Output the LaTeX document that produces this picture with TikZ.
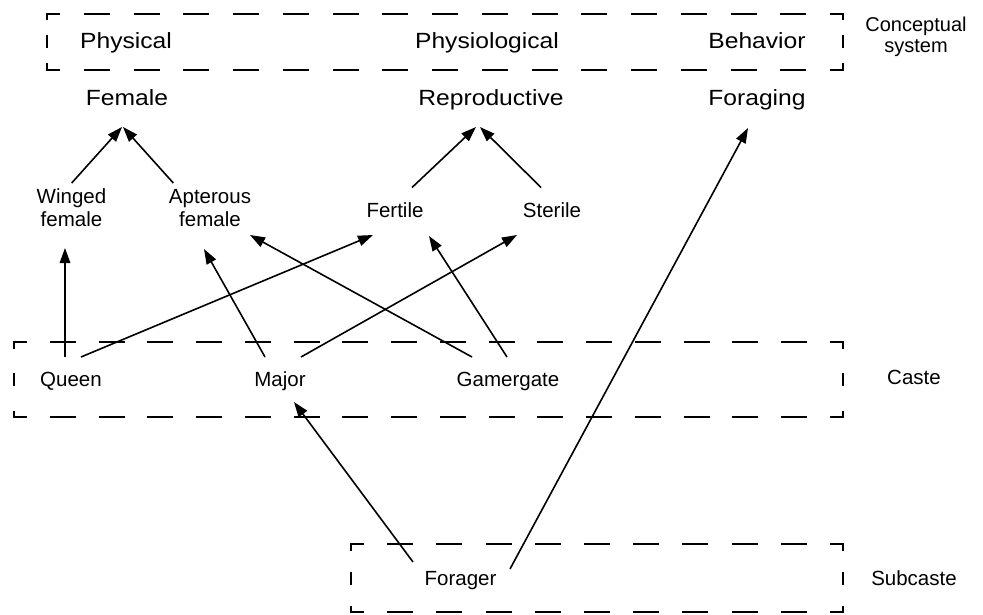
\documentclass[tikz,border=0pt]{standalone}
\usepackage{fontspec}
\setmainfont{Liberation Sans}
\newfontfamily\widesans{Liberation Sans}[FakeStretch=1.12]
\usetikzlibrary{arrows.meta}

% one dashed side: x1 y1 x2 y2, target period, dash length;
% the run starts and ends with half a dash so corners read as "L" pieces
\newcommand\dashrun[6]{%
  \pgfmathsetmacro\runlen{abs(#3-#1)+abs(#4-#2)}%
  \pgfmathsetmacro\runper{\runlen/max(1,round(\runlen/#5))}%
  \pgfmathsetmacro\runoff{\runper-#6}%
  \pgfmathsetmacro\runph{#6/2}%
  \draw[boxline, dash pattern=on #6pt off \runoff pt, dash phase=\runph pt] (#1,#2) -- (#3,#4);%
}
% dashed frame: left, top, right, bottom
\newcommand\dashframe[4]{%
  \dashrun{#1}{#2}{#3}{#2}{49}{24}%
  \dashrun{#3}{#2}{#3}{#4}{36}{11}%
  \dashrun{#3}{#4}{#1}{#4}{49}{24}%
  \dashrun{#1}{#4}{#1}{#2}{36}{11}%
}

\tikzset{
  biglabel/.style={font=\widesans\fontsize{22}{24}\selectfont, inner sep=0pt, anchor=base},
  smalllabel/.style={font=\fontsize{20.5}{23}\selectfont, inner sep=0pt, anchor=base},
  twoline/.style={font=\fontsize{20.5}{23}\selectfont, inner sep=0pt, align=center},
  sidelabel/.style={font=\fontsize{20}{20.5}\selectfont, inner sep=0pt, align=center},
  arr/.style={line width=1.6pt, -{Triangle[length=15pt,width=10.5pt]}},
  boxline/.style={line width=2pt, line cap=rect},
}

\begin{document}
\begin{tikzpicture}[x=1pt, y=-1pt]
\useasboundingbox (0,0) rectangle (983,615);

% dashed frames
\dashframe{47}{14}{843}{70}
\dashframe{14}{342}{843}{417}
\dashframe{351}{544}{843}{612}

% conceptual system row
\node[biglabel] (physical) at (126,48.5) {Physical};
\node[biglabel] (physiological) at (487,48.5) {Physiological};
\node[biglabel] (behavior) at (757,48.5) {Behavior};
\node[sidelabel] (concept) at (916,37) {Conceptual\\system};

% properties
\node[biglabel] (female) at (127,106) {Female};
\node[biglabel] (reproductive) at (491,106) {Reproductive};
\node[biglabel] (foraging) at (757,106) {Foraging};

\node[twoline] (winged) at (71.5,208) {Winged\\female};
\node[twoline] (apterous) at (210,208) {Apterous\\female};
\node[smalllabel] (fertile) at (395,217.5) {Fertile};
\node[smalllabel] (sterile) at (552,217.5) {Sterile};

% castes
\node[smalllabel] (queen) at (71,386) {Queen};
\node[smalllabel] (major) at (280,386) {Major};
\node[smalllabel] (gamergate) at (508,386) {Gamergate};
\node[smalllabel] (caste) at (914,384.5) {Caste};

% subcaste
\node[smalllabel] (forager) at (460.5,585) {Forager};
\node[smalllabel] (subcaste) at (914,585) {Subcaste};

% property hierarchy
\draw[arr] ([shift={(0.2,-25)}]winged.center) -- ([shift={(-5,21)}]female.base);
\draw[arr] ([shift={(-36.7,-25)}]apterous.center) -- ([shift={(-4,21)}]female.base);
\draw[arr] ([shift={(17,-30)}]fertile.base) -- ([shift={(-15,21)}]reproductive.base);
\draw[arr] ([shift={(-11,-30)}]sterile.base) -- ([shift={(-11,21)}]reproductive.base);

% caste to properties
\draw[arr] ([shift={(-6,-29)}]queen.base) -- ([shift={(-6.5,40)}]winged.center);
\draw[arr] ([shift={(10,-29)}]queen.base) -- ([shift={(-22,17.5)}]fertile.base);
\draw[arr] ([shift={(-15,-29)}]major.base) -- ([shift={(-6,41)}]apterous.center);
\draw[arr] ([shift={(21,-29)}]major.base) -- ([shift={(-35,17.5)}]sterile.base);
\draw[arr] ([shift={(-36,-29)}]gamergate.base) -- ([shift={(40,27)}]apterous.center);
\draw[arr] ([shift={(-1,-29)}]gamergate.base) -- ([shift={(34,18.5)}]fertile.base);

% subcaste links
\draw[arr] ([shift={(-47.5,-23)}]forager.base) -- ([shift={(14,16)}]major.base);
\draw[arr] ([shift={(49.5,-16)}]forager.base) -- ([shift={(-9,22)}]foraging.base);
\end{tikzpicture}
\end{document}
